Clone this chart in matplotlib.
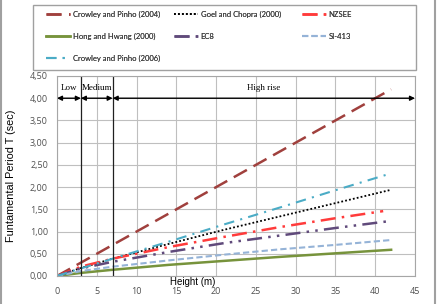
import matplotlib
matplotlib.use('Agg')
import matplotlib.pyplot as plt
from matplotlib.lines import Line2D
from matplotlib.patches import Rectangle

# heights (m) and periods (sec)
heights = [0, 3, 7, 14, 21, 28, 35, 42]
crowley_2004 = [0, 0.30, 0.70, 1.40, 2.10, 2.80, 3.50, 4.20]
goel_chopra = [0, 0.18, 0.39, 0.72, 1.04, 1.34, 1.64, 1.94]
nzsee_h = [0, 3, 7, 14, 21, 28, 35, 41]
nzsee = [0, 0.21, 0.39, 0.65, 0.88, 1.10, 1.30, 1.46]
hong_hwang = [0, 0.07, 0.14, 0.25, 0.34, 0.43, 0.51, 0.59]
ec8 = [0, 0.17, 0.32, 0.54, 0.74, 0.91, 1.08, 1.24]
si413 = [0, 0.11, 0.21, 0.35, 0.48, 0.60, 0.70, 0.81]
crowley_2006 = [0, 0.17, 0.39, 0.77, 1.16, 1.54, 1.93, 2.31]

zones = [(0, 3, 'Low'), (3, 7, 'Medium'), (7, 45, 'High rise')]

W, H = 440, 304
fig = plt.figure(figsize=(4.4, 3.04), dpi=100)
ax = fig.add_axes([57 / W, 28 / H, 358 / W, 200 / H])

lw = 1.8
l1, = ax.plot(heights, crowley_2004, color='#A0403D', lw=lw, dashes=(6, 3), label='Crowley and Pinho (2004)')
l2, = ax.plot(heights, goel_chopra, color='black', lw=1.3, dashes=(1, 1.2), label='Goel and Chopra (2000)')
l3, = ax.plot(nzsee_h, nzsee, color='#FF3B3B', lw=lw, dashes=(6, 2.5, 1, 2.5), label='NZSEE')
l4, = ax.plot(heights, hong_hwang, color='#77933C', lw=lw, label='Hong and Hwang (2000)')
l5, = ax.plot(heights, ec8, color='#604A7B', lw=lw, dashes=(6, 2.5, 1, 2.5, 1, 2.5), label='EC8')
l6, = ax.plot(heights, si413, color='#95B3D7', lw=1.5, dashes=(3, 1.5), label='SI-413')
l7, = ax.plot(heights, crowley_2006, color='#4BACC6', lw=1.5, dashes=(5, 3, 1, 3), label='Crowley and Pinho (2006)')

ax.set_xlim(0, 45)
ax.set_ylim(0, 4.5)
ax.set_xticks(range(0, 50, 5))
ax.set_yticks([i * 0.5 for i in range(10)])
ax.set_yticklabels([f'{i * 0.5:.2f}'.replace('.', ',') for i in range(10)])
ax.tick_params(length=0, labelsize=6.5, colors='#505050')
ax.tick_params(axis='x', pad=8)
ax.tick_params(axis='y', pad=6.5)
for lab in ax.get_xticklabels() + ax.get_yticklabels():
    lab.set_family('Open Sans')
ax.grid(True, color='#BFBFBF', lw=0.8)
ax.set_axisbelow(True)
for s in ax.spines.values():
    s.set_color('#A6A6A6')
    s.set_linewidth(0.8)

# zone boundaries and arrows
for xv in [3, 7]:
    ax.axvline(xv, color='#202020', lw=0.9)
for x0, x1, name in zones:
    ax.annotate('', xy=(x1, 4.0), xytext=(x0, 4.0),
                arrowprops=dict(arrowstyle='<|-|>', color='black', lw=1.0,
                                mutation_scale=7, shrinkA=0, shrinkB=0))
    ax.text((x0 + x1) / 2, 4.13, name, ha='center', va='bottom',
            fontsize=6.5, family='Liberation Serif')

ax.set_ylabel('Funtamental Period T (sec)', fontsize=7.8, family='Liberation Sans', labelpad=10)
ax.text(17, -0.003, 'Height (m)', transform=ax.get_xaxis_transform(),
        ha='center', va='top', fontsize=7, family='Liberation Sans')

# legend: three columns in one box above the plot
fig.add_artist(Rectangle((33 / W, 1 - 70 / H), 383 / W, 65 / H, transform=fig.transFigure,
                         fill=False, edgecolor='#A0A0A0', lw=1.0))
columns = [([l1, l4, l7], 46), ([l2, l5], 174), ([l3, l6], 302)]
for hs, xpx in columns:
    leg = fig.legend(handles=hs, loc='upper left', bbox_to_anchor=(xpx / W, 1 - 11 / H),
                     prop={'family': 'Lato', 'size': 5.5}, handlelength=3.1,
                     frameon=False, borderpad=0, borderaxespad=0,
                     labelspacing=1.95, handletextpad=0.4, labelcolor='#404040')
    fig.add_artist(leg)

fig.add_artist(Line2D([0.002, 0.002], [0, 1], color='#A0A0A0', lw=1.5, transform=fig.transFigure))
fig.add_artist(Line2D([0.988, 0.988], [0, 1], color='#A0A0A0', lw=1.5, transform=fig.transFigure))

fig.savefig('out.png', dpi=100)
